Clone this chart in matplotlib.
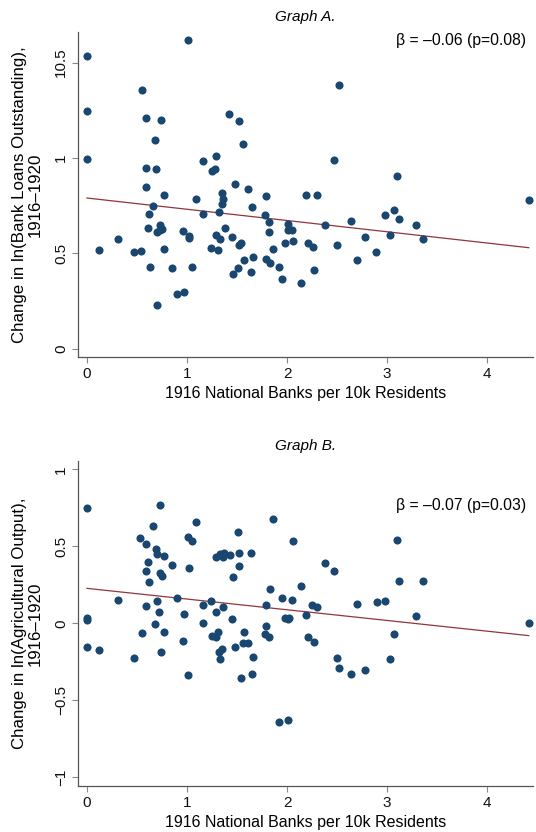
import matplotlib
matplotlib.use("Agg")
import matplotlib.pyplot as plt
import numpy as np

plt.rcParams["font.family"] = ["Liberation Sans", "DejaVu Sans"]

# Graph A: change in ln(bank loans outstanding)
loans_x = [0, 1.01, 0.55, 0, 0.587, 0.743, 1.42, 1.523, 0.683, 1.563, 0, 1.29, 1.16,
           1.25, 1.283, 0.587, 0.693, 1.483, 1.607, 0.587, 0.773, 1.09, 1.347, 1.357,
           1.347, 1.793, 2.523, 2.473, 3.097, 2.187, 2.30, 4.417, 1.647, 0.663, 0.617,
           1.157, 1.32, 0.607, 0.733, 0.697, 0.733, 0.75, 0.963, 1.017, 1.023, 1.377,
           1.29, 1.33, 1.45, 1.537, 1.523, 1.78, 1.823, 1.823, 1.857, 0.12, 0.313, 0.467,
           0.537, 0.767, 1.237, 1.31, 0.633, 0.85, 1.05, 1.573, 1.66, 1.51, 1.46, 1.64,
           1.793, 1.827, 1.917, 1.953, 0.897, 0.97, 0.697, 2.013, 2.01, 2.053, 2.38,
           2.643, 2.977, 3.067, 3.117, 3.287, 3.03, 3.36, 2.78, 2.503, 2.21, 2.26,
           1.977, 2.063, 2.893, 2.697, 2.267, 2.137]
loans_y = [1.536, 1.62, 1.354, 1.247, 1.212, 1.198, 1.23, 1.195, 1.092, 1.074, 0.997, 1.01,
           0.982, 0.934, 0.943, 0.947, 0.942, 0.861, 0.839, 0.847, 0.806, 0.786, 0.816,
           0.786, 0.760, 0.80, 1.382, 0.989, 0.903, 0.807, 0.805, 0.78, 0.744, 0.746,
           0.708, 0.704, 0.718, 0.631, 0.646, 0.611, 0.62, 0.625, 0.615, 0.592, 0.582,
           0.634, 0.597, 0.577, 0.583, 0.556, 0.541, 0.70, 0.662, 0.613, 0.524, 0.519,
           0.573, 0.508, 0.514, 0.521, 0.529, 0.515, 0.428, 0.421, 0.426, 0.463, 0.482,
           0.425, 0.391, 0.40, 0.472, 0.447, 0.426, 0.367, 0.285, 0.299, 0.227, 0.653,
           0.62, 0.624, 0.646, 0.671, 0.70, 0.725, 0.681, 0.646, 0.596, 0.575, 0.583,
           0.541, 0.556, 0.531, 0.554, 0.562, 0.507, 0.463, 0.414, 0.346]
loans_fit = [0.79, -0.059]  # intercept, slope

# Graph B: change in ln(agricultural output)
ag_x = [0, 0.727, 0.663, 1.09, 0.533, 0.587, 1.01, 1.05, 1.513, 0.693, 0.697, 0.767, 0.607,
        0.853, 1.023, 0.587, 0.733, 0.75, 0.617, 1.293, 1.33, 1.357, 1.373, 1.43, 1.52,
        1.64, 1.523, 1.46, 1.857, 1.827, 0.313, 0.90, 0.697, 0.59, 0.723, 1.16, 1.24,
        1.29, 1.36, 1.45, 0.97, 1.793, 0, 0, 0.683, 1.793, 2.063, 3.097, 2.383, 2.473,
        3.117, 3.36, 2.137, 1.953, 2.053, 2.253, 2.30, 2.70, 2.897, 2.98, 2.187, 1.977,
        2.01, 2.023, 3.287, 4.417, 1.16, 0, 0.12, 0.467, 0.55, 0.773, 0.743, 0.963,
        1.013, 1.25, 1.287, 1.313, 1.32, 1.347, 1.33, 1.483, 1.573, 1.563, 1.607, 1.66,
        1.647, 1.543, 1.78, 1.823, 1.917, 2.21, 2.267, 2.503, 2.523, 2.643, 2.78, 3.03,
        3.067, 2.013]
ag_y = [0.751, 0.768, 0.634, 0.66, 0.552, 0.517, 0.56, 0.532, 0.593, 0.484, 0.452, 0.435,
        0.40, 0.376, 0.359, 0.338, 0.327, 0.305, 0.27, 0.429, 0.448, 0.429, 0.458, 0.443,
        0.455, 0.458, 0.37, 0.303, 0.677, 0.222, 0.149, 0.166, 0.145, 0.112, 0.075, 0.119,
        0.143, 0.071, 0.104, 0.025, 0.058, 0.121, 0.032, 0.019, -0.003, -0.018, 0.536,
        0.543, 0.394, 0.342, 0.275, 0.277, 0.242, 0.164, 0.149, 0.119, 0.106, 0.125,
        0.136, 0.143, 0.054, 0.032, 0.026, 0.036, 0.049, 0.0, 0.004, -0.156, -0.173,
        -0.223, -0.065, -0.056, -0.188, -0.115, -0.336, -0.085, -0.087, -0.056, -0.188,
        -0.169, -0.23, -0.156, -0.054, -0.13, -0.126, -0.221, -0.329, -0.353, -0.069,
        -0.087, -0.639, -0.091, -0.121, -0.223, -0.288, -0.331, -0.305, -0.234, -0.067,
        -0.626]
ag_fit = [0.227, -0.0695]

x_ticks = [0, 1, 2, 3, 4]
loans_yticks = [0, 0.5, 1, 1.5]
loans_yticklabels = ["0", "0.5", "1", "10.5"]
ag_yticks = [-1, -0.5, 0, 0.5, 1]
ag_yticklabels = ["\u22121", "\u22120.5", "0", "0.5", "1"]

NAVY = "#1a476f"
MAROON = "#90353b"
AXIS = "#555555"


def panel(ax, x, y, fit, title, note, note_y, ylabel, yticks, yticklabels, ylim):
    x = np.asarray(x)
    ax.scatter(x, y, s=34, color=NAVY, linewidths=0, zorder=3)
    xs = np.array([0, x.max()])
    ax.plot(xs, fit[0] + fit[1] * xs, color=MAROON, lw=0.9, zorder=2)
    ax.set_xlim(-0.09, 4.46)
    ax.set_ylim(*ylim)
    ax.set_xticks(x_ticks)
    ax.set_yticks(yticks)
    ax.set_yticklabels(yticklabels, rotation=90, va="center")
    for side in ["top", "right"]:
        ax.spines[side].set_visible(False)
    for side in ["left", "bottom"]:
        ax.spines[side].set_color(AXIS)
        ax.spines[side].set_linewidth(0.9)
    ax.tick_params(direction="out", length=4, width=0.8, color="#888888",
                   labelsize=11, labelcolor="#111111", pad=3)
    ax.set_title(title, fontsize=11, style="italic", pad=8)
    ax.text(0.985, note_y, note, transform=ax.transAxes, ha="right", va="center",
            fontsize=11.3)
    ax.set_xlabel("1916 National Banks per 10k Residents", fontsize=11.5, labelpad=4)
    ax.set_ylabel(ylabel, fontsize=12.2, labelpad=8, linespacing=1.1)


fig = plt.figure(figsize=(5.36, 8.32), dpi=100)
ax_a = fig.add_axes([0.1455, 0.571, 0.849, 0.3906])
ax_b = fig.add_axes([0.1455, 0.0553, 0.849, 0.3906])

panel(ax_a, loans_x, loans_y, loans_fit, "Graph A.", "\u03b2 = \u20130.06 (p=0.08)", 0.973,
      "Change in ln(Bank Loans Outstanding),\n1916\u20131920",
      loans_yticks, loans_yticklabels, (-0.0435, 1.661))
panel(ax_b, ag_x, ag_y, ag_fit, "Graph B.", "\u03b2 = \u20130.07 (p=0.03)", 0.862,
      "Change in ln(Agricultural Output),\n1916\u20131920",
      ag_yticks, ag_yticklabels, (-1.0565, 1.054))

fig.savefig("out.png", dpi=100)
